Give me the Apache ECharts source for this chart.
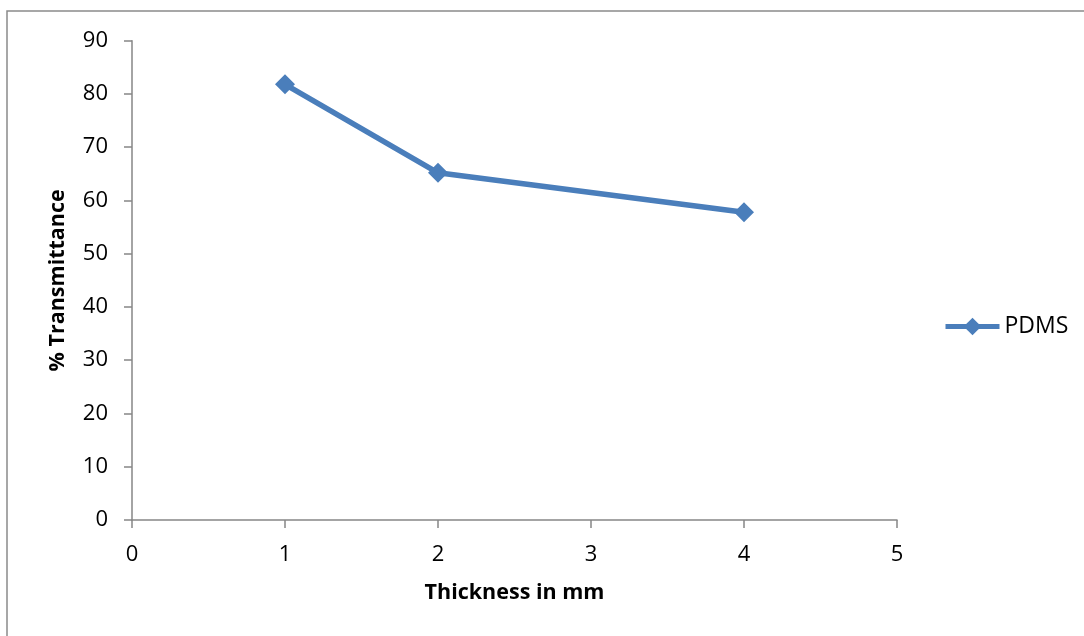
<!DOCTYPE html>
<html>
<head>
<meta charset="utf-8">
<script src="https://cdn.jsdelivr.net/npm/echarts@6/dist/echarts.min.js"></script>
<style>
html,body{margin:0;padding:0;background:#fff;}
#chart{width:1084px;height:636px;}
</style>
</head>
<body>
<div id="chart"></div>
<script>
var thickness = [1, 2, 4];
var transmittance = [81.8, 65.2, 57.8];
var seriesName = 'PDMS';
var xTitle = 'Thickness in mm';
var yTitle = '% Transmittance';

var FONT = '"Open Sans", "Noto Sans", sans-serif';
var AXIS_COLOR = '#868686';
var LINE_COLOR = '#4a7ebb';

var chart = echarts.init(document.getElementById('chart'), null, {renderer: 'canvas'});
chart.setOption({
  animation: false,
  backgroundColor: '#fff',
  graphic: [{
    type: 'rect',
    shape: {x: 7, y: 11, width: 1200, height: 800},
    style: {fill: 'none', stroke: '#8a8a8a', lineWidth: 1.5},
    silent: true
  }],
  grid: {left: 132, right: 1084 - 897, top: 40.7, bottom: 636 - 520, containLabel: false},
  legend: {
    data: [seriesName],
    left: 938,
    top: 310,
    padding: 5,
    itemWidth: 54,
    itemHeight: 22,
    itemGap: 4,
    lineStyle: {width: 5},
    textStyle: {fontFamily: FONT, fontSize: 23, color: '#000'}
  },
  xAxis: {
    type: 'value',
    min: 0, max: 5, interval: 1,
    name: xTitle,
    nameLocation: 'middle',
    nameGap: 62,
    nameTextStyle: {fontFamily: FONT, fontSize: 21.5, fontWeight: 'bold', color: '#000'},
    axisLine: {show: true, onZero: false, lineStyle: {color: AXIS_COLOR, width: 1.5}},
    axisTick: {show: true, inside: false, length: 8, lineStyle: {color: AXIS_COLOR, width: 1.5}},
    axisLabel: {margin: 24, fontFamily: FONT, fontSize: 22, color: '#000'},
    splitLine: {show: false}
  },
  yAxis: {
    type: 'value',
    min: 0, max: 90, interval: 10,
    name: yTitle,
    nameLocation: 'middle',
    nameGap: 63,
    nameRotate: 90,
    nameTextStyle: {fontFamily: FONT, fontSize: 21.5, fontWeight: 'bold', color: '#000'},
    axisLine: {show: true, lineStyle: {color: AXIS_COLOR, width: 1.5}},
    axisTick: {show: true, inside: false, length: 8, lineStyle: {color: AXIS_COLOR, width: 1.5}},
    axisLabel: {margin: 24, fontFamily: FONT, fontSize: 22, color: '#000'},
    splitLine: {show: false}
  },
  series: [{
    name: seriesName,
    type: 'line',
    data: thickness.map(function (x, i) { return [x, transmittance[i]]; }),
    symbol: 'diamond',
    symbolSize: 20,
    lineStyle: {color: LINE_COLOR, width: 5.5},
    itemStyle: {color: LINE_COLOR},
    emphasis: {disabled: true}
  }]
});
</script>
</body>
</html>
